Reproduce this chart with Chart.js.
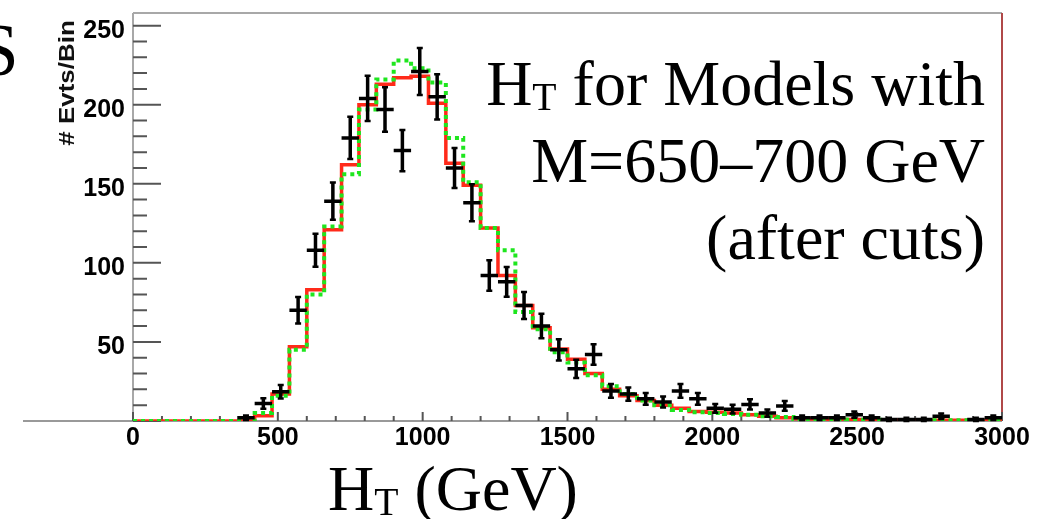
<!DOCTYPE html>
<html><head><meta charset="utf-8">
<script src="https://cdn.jsdelivr.net/npm/chart.js@4.4.1/dist/chart.umd.min.js"></script>
<style>
html,body{margin:0;padding:0;background:#fff;}
#wrap{position:relative;width:1040px;height:519px;overflow:hidden;background:#fff;}
#c{position:absolute;left:0;top:0;}
.t{position:absolute;font-family:"Liberation Serif","Times New Roman",serif;color:#000;white-space:nowrap;}
.t sub{font-size:0.62em;vertical-align:-5px;line-height:0;}
</style></head>
<body><div id="wrap"><canvas id="c" width="1040" height="519"></canvas>
<div class="t" style="right:55px;top:45px;font-size:64px;line-height:77px;text-align:right">H<sub>T</sub> for Models with<br>M=650–700 GeV<br>(after cuts)</div>
<div class="t" style="left:328px;top:450px;font-size:64px;line-height:77px">H<sub>T</sub> (GeV)</div>
<div class="t" style="left:-22px;top:14px;font-size:73px;line-height:73px">S</div>
</div>
<script>
// ---- data ----
const binWidth = 60;
const binCenters = [30,90,150,210,270,330,390,450,510,570,630,690,750,810,870,930,990,1050,1110,1170,
  1230,1290,1350,1410,1470,1530,1590,1650,1710,1770,1830,1890,1950,2010,2070,2130,2190,2250,2310,2370,
  2430,2490,2550,2610,2670,2730,2790,2850,2910,2970];
const dataCounts = [0,0,0,0,0,0,2,11,18.5,70,108,139,179,204,197,171,221,205,160,138,
  92,88,73,60,45,33,42,19,17,14,12,19,14,8,7.5,10.5,5,9.5,2,2,
  2,4,2,1,1,1,3,0,1,2];
const modelRed = [0,0,0,0,0,0,0,3.3,17,47,83,121,162,200,213,217,218,201,163,149,
  122,92,73,59,45.5,39,30,20,16,13,10,8,6,5.5,5,4,3,2,1.5,1.2,
  1,1,0.8,0.7,0.6,0.5,0.5,0.4,0.4,0.3];
const modelGreen = [0,0,0,0,0,0,0,5,16,45,80,123,156,197,216,228,223,214,179,151,
  122,108,69,58,43.5,37,29,22,17,13,10,7,5.5,5,4.5,4,3,2.5,1.2,1,
  1,0.8,0.8,0.6,0.5,0.5,0.4,0.4,0.3,0.3];
const xTickStep = 500, xMinorStep = 100, xMin = 0, xMax = 3000;
const yTickStep = 50, yMinorStep = 10, yMin = 0, yMax = 258;
const yTitle = '# Evts/Bin';

function histPoints(vals){
  const pts = binCenters.map((c,i)=>({x:c - binWidth/2, y:vals[i]}));
  const last = binCenters.length-1;
  pts.push({x:binCenters[last] + binWidth/2, y:vals[last]});
  return pts;
}
const dataPoints = binCenters.map((c,i)=>({x:c, y:dataCounts[i]})).filter(p=>p.y>0);

Chart.defaults.font.family = '"Liberation Sans", Arial, Helvetica, sans-serif';

const framePlugin = {
  id:'frame',
  beforeDatasetsDraw(chart){
    const {ctx, chartArea:a, scales:{x,y}} = chart;
    ctx.save();
    ctx.lineWidth = 2;
    ctx.strokeStyle = '#a8a8a8';
    ctx.beginPath();
    ctx.moveTo(a.left, a.top); ctx.lineTo(a.right, a.top);
    ctx.moveTo(a.left, a.top); ctx.lineTo(a.left, a.bottom);
    ctx.stroke();
    ctx.strokeStyle = '#999';
    ctx.beginPath();
    ctx.moveTo(23, a.bottom); ctx.lineTo(a.right, a.bottom);
    ctx.stroke();
    ctx.strokeStyle = '#b04848';
    ctx.beginPath();
    ctx.moveTo(a.right, a.top); ctx.lineTo(a.right, a.bottom);
    ctx.stroke();
    ctx.strokeStyle = '#555';
    ctx.lineWidth = 2;
    ctx.beginPath();
    for(let v=yMin; v<=yMax; v+=yMinorStep){
      const py = y.getPixelForValue(v);
      const len = (v % yTickStep === 0) ? 28 : 14;
      ctx.moveTo(a.left, py); ctx.lineTo(a.left+len, py);
    }
    for(let v=xMin; v<=xMax; v+=xMinorStep){
      const px = x.getPixelForValue(v);
      const len = (v % xTickStep === 0) ? 9 : 5;
      ctx.moveTo(px, a.bottom); ctx.lineTo(px, a.bottom-len);
    }
    ctx.stroke();
    ctx.restore();
  },
  afterDatasetsDraw(chart){
    const {ctx, scales:{x,y}} = chart;
    const meta = chart.getDatasetMeta(0);
    ctx.save();
    ctx.strokeStyle = '#000';
    ctx.lineCap = 'butt';
    meta.data.forEach((el,i)=>{
      const p = dataPoints[i];
      const err = Math.sqrt(p.y);
      const x0 = x.getPixelForValue(p.x - binWidth/2), x1 = x.getPixelForValue(p.x + binWidth/2);
      const y0 = y.getPixelForValue(p.y - err), y1 = y.getPixelForValue(p.y + err);
      ctx.lineWidth = 3.5;
      ctx.beginPath();
      ctx.moveTo(x0, el.y); ctx.lineTo(x1, el.y);
      ctx.moveTo(el.x, y0); ctx.lineTo(el.x, y1);
      ctx.stroke();
      ctx.lineWidth = 2.5;
      ctx.beginPath();
      ctx.moveTo(el.x-3, y0); ctx.lineTo(el.x+3, y0);
      ctx.moveTo(el.x-3, y1); ctx.lineTo(el.x+3, y1);
      ctx.stroke();
    });
    ctx.restore();
  },
  afterDraw(chart){
    const ctx = chart.ctx;
    ctx.save();
    ctx.translate(74, 83);
    ctx.rotate(-Math.PI/2);
    ctx.scale(1.18, 1);
    ctx.font = 'bold 22px "Liberation Sans", Arial, sans-serif';
    ctx.fillStyle = '#111';
    ctx.textAlign = 'center';
    ctx.textBaseline = 'alphabetic';
    ctx.fillText(yTitle, 0, 0);
    ctx.restore();
  }
};

new Chart(document.getElementById('c'), {
  data:{
    datasets:[
      {type:'scatter', label:'Data', data:dataPoints, pointRadius:0, showLine:false, order:0},
      {type:'line', label:'Model B', data:histPoints(modelGreen), stepped:true, borderColor:'#1ee61e',
        borderWidth:4, borderDash:[4,4], pointRadius:0, fill:false, order:1},
      {type:'line', label:'Model A', data:histPoints(modelRed), stepped:true, borderColor:'#ff2a1a',
        borderWidth:3.5, pointRadius:0, fill:false, order:2}
    ]
  },
  options:{
    responsive:false, animation:false, devicePixelRatio:1,
    layout:{padding:{left:0, right:38, top:13, bottom:0}},
    plugins:{legend:{display:false}, tooltip:{enabled:false}},
    scales:{
      x:{type:'linear', min:xMin, max:xMax,
        grid:{display:false, drawTicks:false}, border:{display:false},
        ticks:{stepSize:xTickStep, autoSkip:false, maxRotation:0, padding:2, color:'#000',
          font:{size:25, weight:'bold'}, callback:(v)=> String(v)},
        afterFit(s){ s.height = 98; s.paddingLeft = 0; s.paddingRight = 0; }},
      y:{type:'linear', min:yMin, max:yMax,
        grid:{display:false, drawTicks:false}, border:{display:false},
        ticks:{stepSize:yTickStep, includeBounds:false, padding:8, color:'#000', labelOffset:5,
          font:{size:25, weight:'bold'}, callback:(v)=> v===0 ? '' : String(v)},
        afterFit(s){ s.width = 133; s.paddingTop = 0; s.paddingBottom = 0; }}
    }
  },
  plugins:[framePlugin]
});
</script>
</body></html>
